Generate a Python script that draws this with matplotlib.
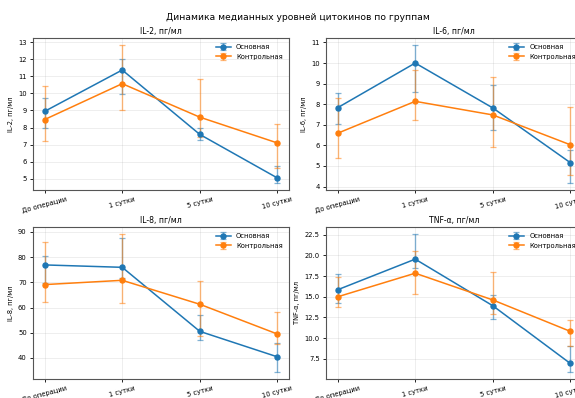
import matplotlib.pyplot as plt
from matplotlib.colors import to_rgba
from matplotlib.ticker import MultipleLocator, FormatStrFormatter

days = ["До операции", "1 сутки", "5 сутки", "10 сутки"]
groups = ["Основная", "Контрольная"]

# IL-2, пг/мл: medians and error-bar bounds
il2_main = [8.95, 11.37, 7.6, 5.05]
il2_main_lo = [7.98, 9.95, 7.28, 4.75]
il2_main_hi = [9.72, 12.03, 8.0, 5.74]
il2_ctrl = [8.47, 10.57, 8.61, 7.1]
il2_ctrl_lo = [7.24, 9.0, 7.45, 5.65]
il2_ctrl_hi = [10.43, 12.84, 10.85, 8.19]

# IL-6, пг/мл
il6_main = [7.83, 10.0, 7.82, 5.16]
il6_main_lo = [7.05, 8.58, 6.75, 4.17]
il6_main_hi = [8.55, 10.88, 8.94, 5.8]
il6_ctrl = [6.59, 8.14, 7.48, 6.03]
il6_ctrl_lo = [5.39, 7.25, 5.91, 4.57]
il6_ctrl_hi = [8.3, 9.66, 9.32, 7.88]

# IL-8, пг/мл
il8_main = [76.9, 75.95, 50.55, 40.45]
il8_main_lo = [69.8, 71.7, 47.0, 34.4]
il8_main_hi = [80.5, 87.6, 56.9, 45.95]
il8_ctrl = [69.1, 70.8, 61.3, 49.5]
il8_ctrl_lo = [62.1, 61.7, 48.7, 45.5]
il8_ctrl_hi = [85.9, 89.2, 70.7, 58.4]

# TNF-α, пг/мл
tnf_main = [15.85, 19.55, 13.92, 6.94]
tnf_main_lo = [14.2, 18.45, 12.35, 5.9]
tnf_main_hi = [17.75, 22.6, 15.2, 9.05]
tnf_ctrl = [15.0, 17.85, 14.62, 10.82]
tnf_ctrl_lo = [13.76, 15.35, 12.9, 9.06]
tnf_ctrl_hi = [17.4, 20.5, 17.97, 12.25]

panels = [
    ("IL-2, пг/мл", 1, [(il2_main, il2_main_lo, il2_main_hi), (il2_ctrl, il2_ctrl_lo, il2_ctrl_hi)]),
    ("IL-6, пг/мл", 1, [(il6_main, il6_main_lo, il6_main_hi), (il6_ctrl, il6_ctrl_lo, il6_ctrl_hi)]),
    ("IL-8, пг/мл", None, [(il8_main, il8_main_lo, il8_main_hi), (il8_ctrl, il8_ctrl_lo, il8_ctrl_hi)]),
    ("TNF-α, пг/мл", None, [(tnf_main, tnf_main_lo, tnf_main_hi), (tnf_ctrl, tnf_ctrl_lo, tnf_ctrl_hi)]),
]

colors = ["#1f77b4", "#ff7f0e"]

W, H = 575, 398
fig = plt.figure(figsize=(W / 100, H / 100), dpi=100)

# axes boxes in pixels: left, top, width, height
boxes = [(33, 38, 256, 152), (326, 38, 256, 152),
         (33, 227, 256, 152), (326, 227, 256, 152)]

for (title, step, series), (l, t, w, h) in zip(panels, boxes):
    ax = fig.add_axes([l / W, 1 - (t + h) / H, w / W, h / H])
    x = list(range(len(days)))
    for (vals, lo, hi), name, c in zip(series, groups, colors):
        yerr = [[v - a for v, a in zip(vals, lo)], [b - v for v, b in zip(vals, hi)]]
        ax.errorbar(x, vals, yerr=yerr, color=c, ecolor=to_rgba(c, 0.55),
                    marker='o', markersize=3.6, linewidth=1.1, elinewidth=1.0,
                    capsize=2.5, capthick=0.9, label=name)
    ax.set_title(title, fontsize=5.6, pad=3)
    ax.set_ylabel(title, fontsize=4.8, labelpad=3)
    ax.set_xticks(x)
    ax.set_xticklabels(days, rotation=15, ha='center')
    if step:
        ax.yaxis.set_major_locator(MultipleLocator(step))
        ax.yaxis.set_major_formatter(FormatStrFormatter('%d'))
    ax.tick_params(labelsize=4.9, length=2.5, width=0.6, pad=2)
    ax.grid(alpha=0.3, linewidth=0.5)
    for s in ax.spines.values():
        s.set_linewidth(0.8)
        s.set_color('#555555')
    ax.legend(loc='upper right', fontsize=4.9, frameon=False, handlelength=2.2)

fig.text(298 / W, 1 - 17 / H, "Динамика медианных уровней цитокинов по группам",
         ha='center', va='center', fontsize=6.6)

plt.savefig("out.png", dpi=100)
